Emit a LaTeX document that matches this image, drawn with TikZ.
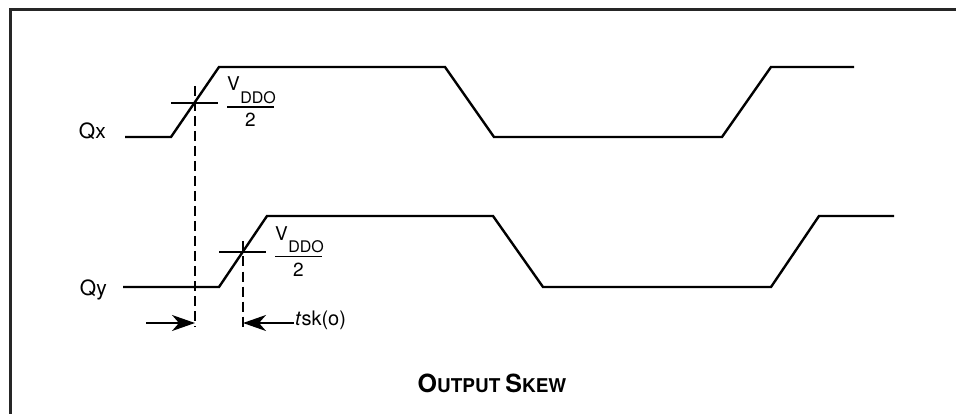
\documentclass[tikz,border=0pt]{standalone}
\usepackage{fontspec}
\setmainfont{TeX Gyre Heros}
\usetikzlibrary{arrows.meta, positioning}

% V_DDO over 2, set beside a crossing point
\newcommand{\halfvdd}[2]{%
  \begin{scope}[shift={(#1)}]
    \draw[fracbar] (32,5) -- (79,5);
    \node[lbl, anchor=base west] (v#2) at (32,-11)
      {V\kern0.5pt\raisebox{-12.5pt}{\fontsize{16}{16}\selectfont DDO}};
    \node[lbl, anchor=base] (two#2) at (55.5,25) {2};
  \end{scope}}

\begin{document}
\begin{tikzpicture}[x=1pt, y=-1pt, >={Stealth[length=23pt, width=16pt, inset=7pt]},
  wave/.style={line width=2.4pt},
  guide/.style={line width=1.2pt, dash pattern=on 10pt off 5pt},
  tick/.style={line width=1.8pt},
  fracbar/.style={line width=1.2pt},
  skew/.style={line width=1.4pt, ->},
  lbl/.style={inner sep=0pt, font=\fontsize{19}{19}\selectfont},
  sig/.style={inner sep=0pt, font=\fontsize{21}{21}\selectfont}]

\useasboundingbox (0,0) rectangle (956,414);
\clip (0,0) rectangle (956,414);
\draw[line width=3pt, black!85] (10.5,430) |- (970,10);

% define the crossing points and the skew marks
\coordinate (cx) at (195,102);
\coordinate (cy) at (243,251.5);
\coordinate (skx) at (195,323);
\coordinate (sky) at (243,323);
\coordinate (tail) at (146,323);

% define the waveforms
\draw[wave] (125,137) -- (171,137) -- (219,67) -- (445,67) -- (494,137)
  -- (722,137) -- (771,67) -- (854,67);
\draw[wave] (123,287) -- (219,287) -- (267,216) -- (493,216) -- (543,287)
  -- (771,287) -- (819,216) -- (894,216);
\node[sig, anchor=base east] (qx) at (106,139) {Qx};
\node[sig, anchor=base east] (qy) at (107,295) {Qy};

% define the crossings
\draw[tick] (171,103) -- (218,103);
\draw[tick] (219,252) -- (266,252);
\draw[guide] (cx) ++(0,-16) -- ([yshift=-4pt]skx);
\draw[guide] (cy) ++(0,-10) -- ([yshift=-4pt]sky);
\halfvdd{cx}{x}
\halfvdd{cy}{y}

% define the skew
\node[sig, anchor=base west, inner sep=1pt, font=\fontsize{20}{20}\selectfont] (tsk) at (294,325) {\textit{t}sk(o)};
\draw[skew] (tail) -- (skx);
\draw[skew] (tsk.west |- sky) -- (sky);

\node[anchor=base, font=\bfseries] (title) at (492,392)
  {{\fontsize{25}{25}\selectfont O}{\fontsize{19}{19}\selectfont UTPUT}\hspace{5pt}%
   {\fontsize{25}{25}\selectfont S}{\fontsize{19}{19}\selectfont KEW}};
\end{tikzpicture}
\end{document}
